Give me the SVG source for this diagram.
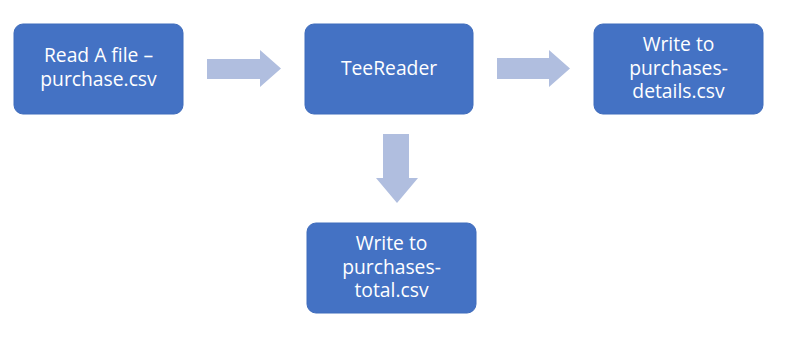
<svg xmlns="http://www.w3.org/2000/svg" width="785" height="340" viewBox="0 0 785 340">
<style>
.box{fill:#4472C4;stroke:#3F6CBC;stroke-width:1}
.lbl{fill:#FFFFFF;font-family:"Open Sans","Noto Sans","Liberation Sans",sans-serif;font-size:19.3px;text-anchor:middle}
.arr{fill:#B0BEDF}
</style>
<rect width="785" height="340" fill="#FFFFFF"/>
<g id="connectors">
<polygon class="arr" points="207,59 260,59 260,50 281,68.5 260,87 260,79 207,79"/>
<polygon class="arr" points="497,58 549,58 549,50 570,68.5 549,87 549,79 497,79"/>
<polygon class="arr" points="383,134 409,134 409,178 418,178 397,203 376,178 383,178"/>
</g>
<g id="node-read">
<rect class="box" x="14" y="24" width="169" height="90" rx="9"/>
<text class="lbl" x="98.5" y="62">Read A file –</text>
<text class="lbl" x="98.5" y="86">purchase.csv</text>
</g>
<g id="node-tee">
<rect class="box" x="305" y="24" width="168" height="90" rx="9"/>
<text class="lbl" x="389" y="75">TeeReader</text>
</g>
<g id="node-details">
<rect class="box" x="594" y="24" width="169" height="90" rx="9"/>
<text class="lbl" x="678.5" y="51">Write to</text>
<text class="lbl" x="678.5" y="75">purchases-</text>
<text class="lbl" x="678.5" y="98">details.csv</text>
</g>
<g id="node-total">
<rect class="box" x="307" y="223" width="169" height="90" rx="9"/>
<text class="lbl" x="391.5" y="250">Write to</text>
<text class="lbl" x="391.5" y="274">purchases-</text>
<text class="lbl" x="391.5" y="297">total.csv</text>
</g>
</svg>
